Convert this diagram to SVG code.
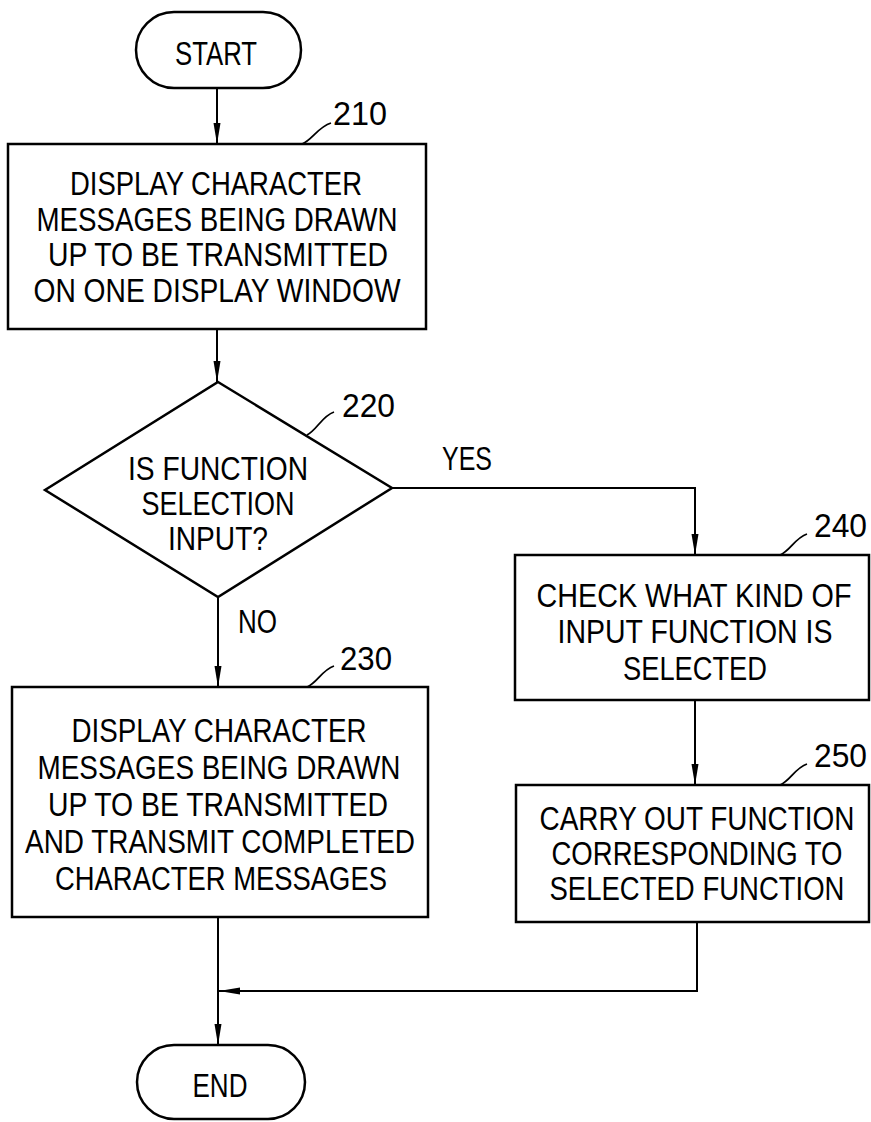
<svg xmlns="http://www.w3.org/2000/svg" width="871" height="1122" viewBox="0 0 871 1122">
<style>
.box{fill:#fff;stroke:#000;stroke-width:2.5}
.t{font-family:"Liberation Sans",Arial,sans-serif;font-size:33px;fill:#000;text-anchor:middle}
.lbl{font-family:"Liberation Sans",Arial,sans-serif;font-size:33px;fill:#000}
.ln{fill:none;stroke:#000;stroke-width:2}
.ld{fill:none;stroke:#000;stroke-width:1.8}
</style>
<defs>
<marker id="ah" markerUnits="userSpaceOnUse" markerWidth="22" markerHeight="8" refX="21" refY="4" orient="auto">
<path d="M0,0.5 L21,4 L0,7.5 z" fill="#000"/>
</marker>
</defs>
<g id="connectors">
<line class="ln" x1="217" y1="88" x2="217" y2="144" marker-end="url(#ah)"/>
<line class="ln" x1="217" y1="329" x2="217" y2="382" marker-end="url(#ah)"/>
<line class="ln" x1="218" y1="597" x2="218" y2="687" marker-end="url(#ah)"/>
<polyline class="ln" points="392,488 695,488 695,555" marker-end="url(#ah)"/>
<line class="ln" x1="695" y1="700" x2="695" y2="785" marker-end="url(#ah)"/>
<polyline class="ln" points="697,922 697,991 219,991" marker-end="url(#ah)"/>
<line class="ln" x1="218" y1="917" x2="218" y2="1045" marker-end="url(#ah)"/>
<text class="lbl" x="442" y="470" textLength="50" lengthAdjust="spacingAndGlyphs">YES</text>
<text class="lbl" x="238" y="633" textLength="39" lengthAdjust="spacingAndGlyphs">NO</text>
</g>
<g id="start">
<rect class="box" x="136" y="12" width="165" height="76" rx="38" ry="38"/>
<text class="t" x="216" y="65" textLength="82" lengthAdjust="spacingAndGlyphs">START</text>
</g>
<g id="n210">
<rect class="box" x="8" y="144" width="418" height="185"/>
<text class="t" x="216" y="195" textLength="292" lengthAdjust="spacingAndGlyphs">DISPLAY CHARACTER</text>
<text class="t" x="217" y="231" textLength="361" lengthAdjust="spacingAndGlyphs">MESSAGES BEING DRAWN</text>
<text class="t" x="218" y="266" textLength="340" lengthAdjust="spacingAndGlyphs">UP TO BE TRANSMITTED</text>
<text class="t" x="217" y="302" textLength="367" lengthAdjust="spacingAndGlyphs">ON ONE DISPLAY WINDOW</text>
<path class="ld" d="M302,144 C312,140 318,127 331,123"/>
<text class="lbl" x="333" y="125" textLength="54" lengthAdjust="spacingAndGlyphs">210</text>
</g>
<g id="n220">
<polygon class="box" points="218,382 392,488 218,597 45,490"/>
<text class="t" x="218" y="480" textLength="180" lengthAdjust="spacingAndGlyphs">IS FUNCTION</text>
<text class="t" x="218" y="515" textLength="153" lengthAdjust="spacingAndGlyphs">SELECTION</text>
<text class="t" x="218" y="550" textLength="100" lengthAdjust="spacingAndGlyphs">INPUT?</text>
<path class="ld" d="M307,435 C317,430 322,416 334,412"/>
<text class="lbl" x="342" y="417" textLength="53" lengthAdjust="spacingAndGlyphs">220</text>
</g>
<g id="n230">
<rect class="box" x="12" y="687" width="416" height="230"/>
<text class="t" x="219" y="742" textLength="295" lengthAdjust="spacingAndGlyphs">DISPLAY CHARACTER</text>
<text class="t" x="219" y="779" textLength="363" lengthAdjust="spacingAndGlyphs">MESSAGES BEING DRAWN</text>
<text class="t" x="218" y="816" textLength="340" lengthAdjust="spacingAndGlyphs">UP TO BE TRANSMITTED</text>
<text class="t" x="220" y="853" textLength="390" lengthAdjust="spacingAndGlyphs">AND TRANSMIT COMPLETED</text>
<text class="t" x="221" y="890" textLength="332" lengthAdjust="spacingAndGlyphs">CHARACTER MESSAGES</text>
<path class="ld" d="M307,687 C317,683 322,670 334,666"/>
<text class="lbl" x="340" y="670" textLength="52" lengthAdjust="spacingAndGlyphs">230</text>
</g>
<g id="n240">
<rect class="box" x="515" y="555" width="354" height="145"/>
<text class="t" x="694" y="607" textLength="315" lengthAdjust="spacingAndGlyphs">CHECK WHAT KIND OF</text>
<text class="t" x="695" y="643" textLength="275" lengthAdjust="spacingAndGlyphs">INPUT FUNCTION IS</text>
<text class="t" x="695" y="680" textLength="144" lengthAdjust="spacingAndGlyphs">SELECTED</text>
<path class="ld" d="M780,555 C790,551 795,538 807,534"/>
<text class="lbl" x="814" y="537" textLength="53" lengthAdjust="spacingAndGlyphs">240</text>
</g>
<g id="n250">
<rect class="box" x="516" y="785" width="353" height="137"/>
<text class="t" x="697" y="830" textLength="315" lengthAdjust="spacingAndGlyphs">CARRY OUT FUNCTION</text>
<text class="t" x="697" y="865" textLength="291" lengthAdjust="spacingAndGlyphs">CORRESPONDING TO</text>
<text class="t" x="697" y="900" textLength="295" lengthAdjust="spacingAndGlyphs">SELECTED FUNCTION</text>
<path class="ld" d="M780,785 C790,781 795,768 807,764"/>
<text class="lbl" x="814" y="767" textLength="53" lengthAdjust="spacingAndGlyphs">250</text>
</g>
<g id="end">
<rect class="box" x="137" y="1045" width="168" height="74" rx="37" ry="37"/>
<text class="t" x="220" y="1097" textLength="55" lengthAdjust="spacingAndGlyphs">END</text>
</g>
</svg>
